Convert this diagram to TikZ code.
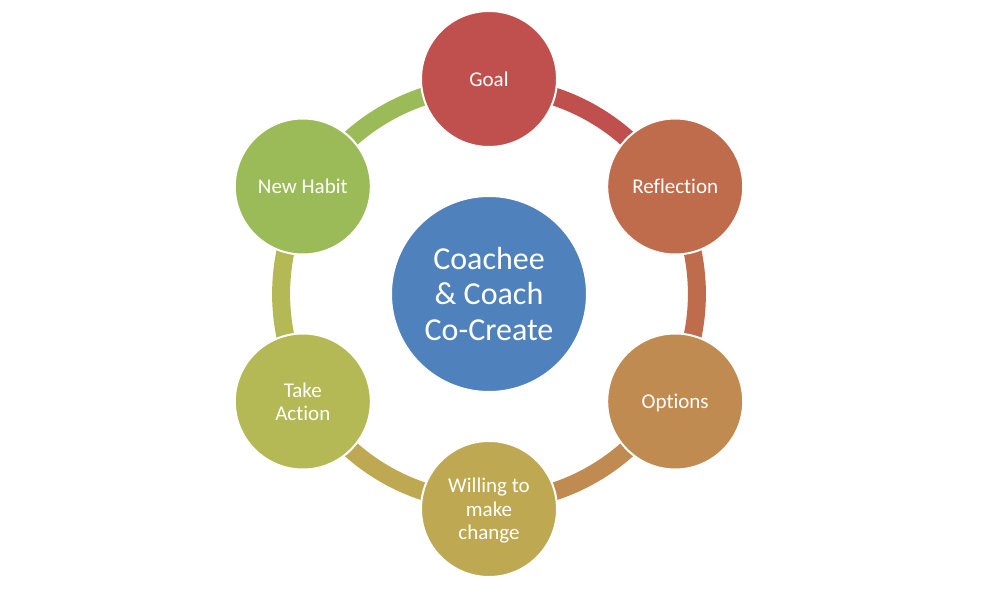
\documentclass[tikz,border=0pt]{standalone}
\usepackage{fontspec}
\setmainfont{Carlito}[Ligatures=NoCommon]
\usetikzlibrary{backgrounds}
\definecolor{chub}{HTML}{4F81BD}
\definecolor{cgoal}{HTML}{C0504D}
\definecolor{crefl}{HTML}{BF6C4C}
\definecolor{copt}{HTML}{C08B50}
\definecolor{cwill}{HTML}{BEA852}
\definecolor{cact}{HTML}{B4B955}
\definecolor{chabit}{HTML}{9BBB59}
\begin{document}
\begin{tikzpicture}[x=1pt,y=1pt,
  cyc/.style={circle, draw=white, line width=2pt, minimum size=136pt, inner sep=0pt,
    text=white, align=center, text depth=0pt, font=\fontsize{21}{23.5}\selectfont},
  hub/.style={circle, draw=white, line width=2pt, fill=chub, minimum size=196pt, inner sep=0pt,
    text=white, align=center, font=\fontsize{32}{35.5}\selectfont},
  conn/.style={line width=18pt, line cap=butt}
]
\useasboundingbox (0,0) rectangle (996,590);
\coordinate (O) at (489,296);
\node[hub] (hub) at (O) {Coachee\\\& Coach\\Co-Create};
\node[cyc, fill=cgoal]  (goal)  at ([shift={(90:215)}]O)  {Goal};
\node[cyc, fill=crefl]  (refl)  at ([shift={(30:215)}]O)  {Reflection};
\node[cyc, fill=copt]   (opt)   at ([shift={(-30:215)}]O) {Options};
\node[cyc, fill=cwill]  (will)  at ([shift={(-90:215)}]O) {Willing to\\make\\change};
\node[cyc, fill=cact]   (act)   at ([shift={(210:215)}]O) {Take\\Action};
\node[cyc, fill=chabit] (habit) at ([shift={(150:215)}]O) {New Habit};
\coordinate (goal-r)  at ([shift={(90:208)}]O);
\coordinate (refl-r)  at ([shift={(30:208)}]O);
\coordinate (opt-r)   at ([shift={(-30:208)}]O);
\coordinate (will-r)  at ([shift={(-90:208)}]O);
\coordinate (act-r)   at ([shift={(210:208)}]O);
\coordinate (habit-r) at ([shift={(150:208)}]O);
\begin{pgfonlayer}{background}
\draw[conn, draw=cgoal]  (goal-r)  to[bend left=30, looseness=0.913] (refl-r);
\draw[conn, draw=crefl]  (refl-r)  to[bend left=30, looseness=0.913] (opt-r);
\draw[conn, draw=copt]   (opt-r)   to[bend left=30, looseness=0.913] (will-r);
\draw[conn, draw=cwill]  (will-r)  to[bend left=30, looseness=0.913] (act-r);
\draw[conn, draw=cact]   (act-r)   to[bend left=30, looseness=0.913] (habit-r);
\draw[conn, draw=chabit] (habit-r) to[bend left=30, looseness=0.913] (goal-r);
\end{pgfonlayer}
\end{tikzpicture}
\end{document}
